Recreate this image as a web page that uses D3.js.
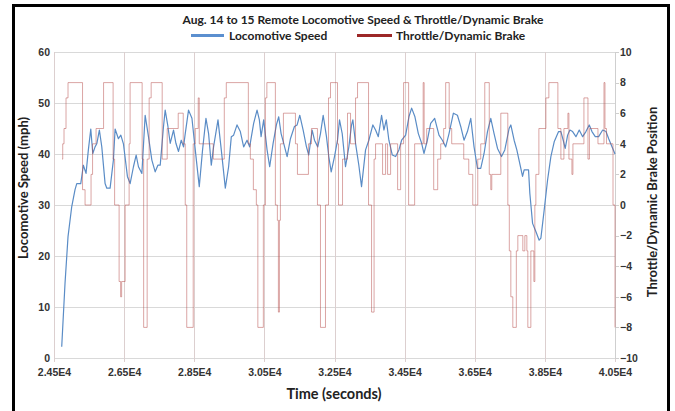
<!DOCTYPE html>
<html><head><meta charset="utf-8">
<script src="https://cdn.jsdelivr.net/npm/d3@7/dist/d3.min.js"></script>
<style>
body{margin:0;background:#fff;}
svg{display:block;font-family:Lato,"Open Sans",sans-serif;}
</style></head>
<body>
<svg id="c" width="675" height="411"></svg>
<script>
// ---- Data ----
const titleText = "Aug. 14 to 15 Remote Locomotive Speed & Throttle/Dynamic Brake";
const seriesNames = ["Locomotive Speed", "Throttle/Dynamic Brake"];
const xTicks = [24500, 26500, 28500, 30500, 32500, 34500, 36500, 38500, 40500];
const xTickLabels = ["2.45E4","2.65E4","2.85E4","3.05E4","3.25E4","3.45E4","3.65E4","3.85E4","4.05E4"];
const leftTicks = [0,10,20,30,40,50,60];
const rightTicks = [-10,-8,-6,-4,-2,0,2,4,6,8,10];

const speedTime = [24720,24814,24900,25006,25100,25149,25263,25337,25414,25480,25549,25606,25671,25720,25794,25863,25957,26006,26100,26194,26243,26337,26406,26480,26594,26671,26766,26843,26909,27006,27100,27194,27291,27386,27463,27529,27623,27671,27749,27814,27909,27977,28051,28129,28194,28243,28337,28434,28529,28643,28737,28834,28909,28986,29051,29177,29271,29386,29480,29557,29623,29720,29814,29909,30006,30080,30194,30291,30357,30406,30480,30577,30651,30749,30843,30909,30977,31051,31149,31243,31357,31434,31509,31606,31700,31766,31863,31929,32023,32100,32177,32271,32337,32406,32500,32586,32643,32720,32814,32909,32986,33023,33100,33194,33271,33386,33480,33594,33671,33749,33843,33909,33977,34051,34149,34243,34337,34414,34529,34623,34700,34794,34891,34986,35051,35149,35243,35357,35480,35577,35671,35766,35891,36006,36100,36194,36291,36386,36480,36577,36671,36766,36863,36957,37051,37149,37263,37357,37480,37529,37623,37700,37794,37863,37909,38034,38071,38149,38243,38337,38386,38480,38577,38671,38766,38891,38957,39023,39080,39149,39214,39291,39386,39480,39577,39671,39766,39843,39937,40034,40149,40243,40320,40500];
const speedMph = [2.2,14.6,23.8,29.7,33,34.2,34.2,37.8,36.2,40.8,44.9,40.1,41.4,42,44.7,41.4,34.2,33.3,33.3,38.8,44.9,43,43.7,42,35.6,34.2,37.5,39.8,37.5,36.2,47.6,43.4,38.8,36.5,37.8,37.8,45.4,48.6,45.4,42.1,44.7,42.1,40.5,42.7,41.4,44,48.6,47,40.8,33.6,40.8,47,44,37.8,41.4,46.7,40.8,33.3,37.5,43.4,43.7,45.7,44.4,41.4,42.7,41.4,46,48.6,46.7,43.4,46.7,40.8,37.5,42.1,45.7,47.3,44,42.1,39.5,43,45.4,45.7,47.6,44.7,41.4,39.8,44.7,42.7,41.4,44,47.6,43.4,39.5,36.5,39.5,42.7,46.7,44,37.5,41.4,45.7,46.7,42.1,37.8,33.6,40.8,42.7,45.7,44.7,43.4,47.6,44.7,46.7,42.7,39.8,39.5,40.8,42.7,43.7,47.3,49,47.3,44,42.1,40.1,42.7,46,47,43.7,42.7,41.4,44,48,47.6,45.4,42.7,44.4,47,41.4,37.2,37.2,40.1,44.4,47,44,41.1,39.5,40.8,45,45.7,42.7,40.8,37.8,35.6,36.9,36.9,32.3,26.4,24.8,23.1,23.5,29,34.9,39.5,42.4,44.4,44.4,42.7,41.1,43.7,44.7,44.4,43.4,44.7,43.4,44.4,45.7,44.4,43.4,43.4,44.7,44.4,43,40];

const throttleTime = [24729,24749,24786,24843,24900,25314,25386,25557,25600,25700,25914,26186,26229,26357,26400,26429,26529,26643,26671,27014,27057,27157,27214,27271,27586,27729,28043,28186,28243,28286,28471,28529,28614,28643,29043,29357,29414,30043,30100,30186,30271,30314,30471,30529,30571,30814,30871,30900,30929,30957,31043,31386,31443,31757,31843,32014,32100,32243,32329,32386,32586,32614,32729,32871,32957,33100,33157,33471,33557,33629,33671,33871,33957,34014,34100,34300,34386,34471,34614,34786,35029,35057,35129,35329,35443,35529,35614,35671,35771,35843,36186,36329,36443,36586,36671,36786,36914,36957,36986,37243,37443,37486,37529,37586,37686,37729,37871,37929,37986,38014,38100,38186,38214,38243,38329,38529,38614,38871,38957,39043,39157,39186,39271,39300,39614,39729,39771,40014,40186,40214,40257,40443,40500];
const throttlePos = [3,4,5,7,8,1,0,2,4,5,8,3,0,-5,-6,-5,0,4,8,3,-8,3,7,8,3,5,6,4,0,-8,4,5,7,4,3,7,8,4,3,1,0,-8,0,7,8,0,-1,-7,-1,4,6,4,2,4,5,0,-8,0,7,8,4,0,3,6,4,7,8,0,-7,3,4,2,4,2,4,1,4,8,0,4,8,4,5,1,3,4,5,8,5,4,3,2,0,3,4,8,2,1,2,6,0,-3,-6,-8,-3,-2,-3,-2,-3,-8,-3,-5,0,2,5,7,8,5,3,5,6,3,2,4,7,3,5,4,8,5,4,0,-8];

// ---- Layout ----
const svg = d3.select("#c");
const m = {left:54, right:615, top:52, bottom:358};
const textCol = "#333333";

svg.append("rect").attr("x",13.5).attr("y",5.5).attr("width",655).attr("height",420)
  .attr("fill","#fff").attr("stroke","#000").attr("stroke-width",3);

const x = d3.scaleLinear().domain([24500,40500]).range([m.left,m.right]);
const yL = d3.scaleLinear().domain([0,60]).range([m.bottom,m.top]);
const yR = d3.scaleLinear().domain([-10,10]).range([m.bottom,m.top]);

// grid
const g = svg.append("g");
g.selectAll("line.h").data(leftTicks).join("line")
  .attr("x1",m.left).attr("x2",m.right)
  .attr("y1",d=>Math.round(yL(d))+0.5).attr("y2",d=>Math.round(yL(d))+0.5)
  .attr("stroke","#d9d9d9").attr("stroke-width",1);
g.selectAll("line.v").data(xTicks).join("line")
  .attr("y1",m.top).attr("y2",m.bottom+4)
  .attr("x1",d=>Math.round(x(d))+0.5).attr("x2",d=>Math.round(x(d))+0.5)
  .attr("stroke","#dccfcf").attr("stroke-width",1);
svg.append("line").attr("x1",m.right+0.5).attr("x2",m.right+0.5).attr("y1",m.top).attr("y2",m.bottom)
  .attr("stroke","#cfcfcf");
svg.selectAll("line.rt").data(rightTicks).join("line")
  .attr("x1",m.right).attr("x2",m.right+4)
  .attr("y1",d=>Math.round(yR(d))+0.5).attr("y2",d=>Math.round(yR(d))+0.5)
  .attr("stroke","#cfcfcf");

// axes (labels via d3 axes)
const axB = d3.axisBottom(x).tickValues(xTicks).tickFormat((d,i)=>xTickLabels[i]).tickSize(0).tickPadding(11);
const axL = d3.axisLeft(yL).tickValues(leftTicks).tickSize(0).tickPadding(4);
const axR = d3.axisRight(yR).tickValues(rightTicks).tickSize(0).tickPadding(5);
function style(sel){
  sel.select(".domain").remove();
  sel.selectAll("text").attr("fill",textCol).attr("font-weight","bold").attr("font-size","10.5px");
}
svg.append("g").attr("transform",`translate(0,${m.bottom})`).call(axB).call(style);
svg.append("g").attr("transform",`translate(${m.left},0)`).call(axL).call(style);
svg.append("g").attr("transform",`translate(${m.right},0)`).call(axR).call(style);

// series
const speedData = speedTime.map((t,i)=>[t,speedMph[i]]);
const thrData = throttleTime.map((t,i)=>[t,throttlePos[i]]);
svg.append("clipPath").attr("id","pc").append("rect")
  .attr("x",m.left).attr("y",m.top-2).attr("width",m.right-m.left+1).attr("height",m.bottom-m.top+4);

svg.append("path").datum(speedData)
  .attr("clip-path","url(#pc)")
  .attr("d",d3.line().x(d=>x(d[0])).y(d=>yL(d[1])))
  .attr("fill","none").attr("stroke","#5a8cc6").attr("stroke-width",1.2).attr("stroke-linejoin","round");
svg.append("path").datum(thrData)
  .attr("clip-path","url(#pc)")
  .attr("d",d3.line().x(d=>x(d[0])).y(d=>yR(d[1])).curve(d3.curveStepAfter))
  .attr("fill","none").attr("stroke","#b84e4c").attr("stroke-opacity",0.5).attr("stroke-width",1);

// title & legend
svg.append("text").attr("x",363).attr("y",24).attr("text-anchor","middle")
  .attr("font-size","12px").attr("font-weight","bold").attr("fill","#222").text(titleText);
const leg = [{x1:191,x2:224,col:"#5b8fcf",tx:229,label:seriesNames[0]},
             {x1:357,x2:392,col:"#9c2727",tx:396,label:seriesNames[1]}];
const lg = svg.append("g").selectAll("g").data(leg).join("g");
lg.append("line").attr("x1",d=>d.x1).attr("x2",d=>d.x2).attr("y1",35.5).attr("y2",35.5)
  .attr("stroke",d=>d.col).attr("stroke-width",3);
lg.append("text").attr("x",d=>d.tx).attr("y",39.5).attr("font-size","12px").attr("font-weight","bold")
  .attr("fill","#222").text(d=>d.label);

// axis titles
svg.append("text").attr("x",334).attr("y",399).attr("text-anchor","middle")
  .attr("font-size","14.5px").attr("font-weight","bold").attr("fill","#222").text("Time (seconds)");
svg.append("text").attr("transform","translate(28,188) rotate(-90)").attr("text-anchor","middle")
  .attr("font-size","13px").attr("font-weight","bold").attr("fill","#222").text("Locomotive Speed (mph)");
svg.append("text").attr("transform","translate(657,202) rotate(-90)").attr("text-anchor","middle")
  .attr("font-size","13px").attr("font-weight","bold").attr("fill","#222").text("Throttle/Dynamic Brake Position");
</script>
</body></html>
